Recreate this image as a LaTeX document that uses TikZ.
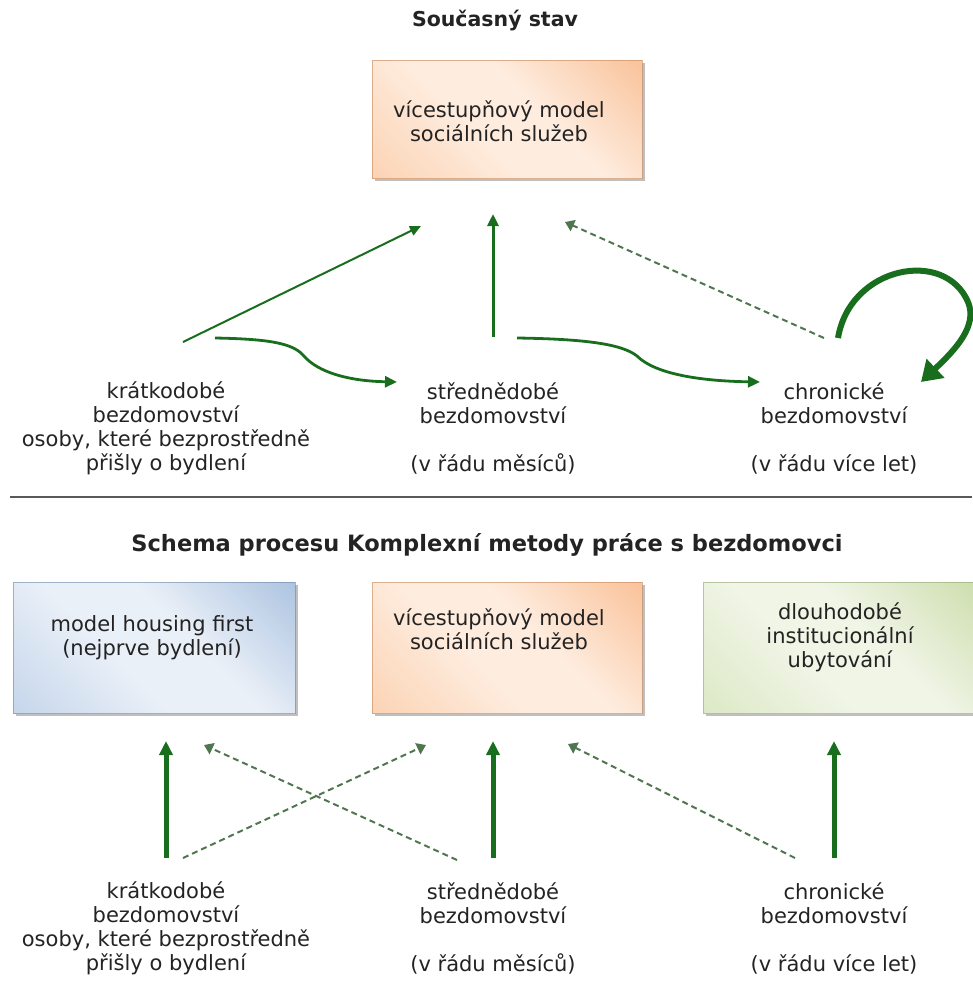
\documentclass[tikz,border=0pt]{standalone}
\usepackage{fontspec}
\setmainfont{DejaVu Sans}
\usetikzlibrary{arrows.meta,shadows}
\definecolor{grn}{RGB}{25,110,30}
\definecolor{dgrn}{RGB}{80,118,80}
\definecolor{txt}{RGB}{35,35,35}
\definecolor{oD}{RGB}{247,172,118}
\definecolor{oW}{RGB}{254,236,222}
\definecolor{oL}{RGB}{250,198,158}
\definecolor{bD}{RGB}{140,172,212}
\definecolor{bW}{RGB}{234,240,248}
\definecolor{bL}{RGB}{178,200,228}
\definecolor{gD}{RGB}{188,210,146}
\definecolor{gW}{RGB}{240,245,230}
\definecolor{gL}{RGB}{210,226,180}
\pgfdeclarehorizontalshading{oshade}{100bp}{color(0bp)=(oL); color(42bp)=(oW); color(58bp)=(oW); color(100bp)=(oD)}
\pgfdeclarehorizontalshading{bshade}{100bp}{color(0bp)=(bL); color(42bp)=(bW); color(58bp)=(bW); color(100bp)=(bD)}
\pgfdeclarehorizontalshading{gshade}{100bp}{color(0bp)=(gL); color(42bp)=(gW); color(58bp)=(gW); color(100bp)=(gD)}
\newcommand\lblfont{\fontsize{21}{24}\selectfont}
\tikzset{
  lbl/.style={align=center, font=\lblfont, text=txt, inner sep=0pt},
  ttl/.style={font=\fontsize{20.5}{24}\selectfont\bfseries, text=txt, inner sep=0pt, anchor=base},
  boxstyle/.style={shade, shading angle=45, draw=#1, draw opacity=0.6, line width=0.6pt, inner sep=0pt,
    drop shadow={shadow xshift=2.5pt, shadow yshift=-2.5pt, fill=black!50, opacity=0.5}},
  thinarr/.style={draw=grn, line width=2pt, -{Triangle[length=11pt,width=10pt]}},
  midarr/.style={draw=grn, line width=3pt, -{Triangle[length=12pt,width=11pt]}},
  thickarr/.style={draw=grn, line width=5pt, -{Triangle[length=14pt,width=13pt]}},
  curvarr/.style={draw=grn, line width=2.8pt, -{Triangle[length=12pt,width=11pt]}},
  looparr/.style={draw=grn, line width=6pt, -{Triangle[length=20pt,width=25pt]}},
  dasharr/.style={draw=dgrn, line width=2pt, dash pattern=on 6pt off 4pt, -{Triangle[length=9pt,width=12pt]}},
}
\begin{document}
\begin{tikzpicture}[x=1pt,y=-1pt]
\useasboundingbox (0,0) rectangle (972,993);
% ---------- top part ----------
\node[ttl] (title1) at (495,27) {Současný stav};
\node[boxstyle=oD!80!black, shading=oshade, minimum width=270pt, minimum height=118pt] (topbox) at (507,119) {};
\node[lbl] (topboxt) at (499,121) {vícestupňový model\\sociálních služeb};
\node[lbl] (kt1) at (166,428) {krátkodobé\\bezdomovství\\osoby, které bezprostředně\\přišly o bydlení};
\node[lbl] (st1) at (493,428) {střednědobé\\bezdomovství\\[24pt](v řádu měsíců)};
\node[lbl] (ch1) at (834,428) {chronické\\bezdomovství\\[24pt](v řádu více let)};
\coordinate (a1s) at (183,342); \coordinate (a1e) at (421,226);
\coordinate (a2s) at (493,337); \coordinate (a2e) at (493,214);
\coordinate (a3s) at (824,338); \coordinate (a3e) at (565,222);
\coordinate (c1s) at (215,338); \coordinate (c1m) at (303,355); \coordinate (c1e) at (397,382);
\coordinate (c2s) at (517,338); \coordinate (c2m) at (637,356); \coordinate (c2e) at (760,382);
\coordinate (ls) at (838,338); \coordinate (lm) at (968,302); \coordinate (le) at (921,382);
\draw[thinarr] (a1s) -- (a1e);
\draw[midarr] (a2s) -- (a2e);
\draw[dasharr] (a3s) -- (a3e);
\draw[curvarr] (c1s) .. controls (268,339) and (292,343) .. (c1m) .. controls (318,373) and (350,381) .. (c1e);
\draw[curvarr] (c2s) .. controls (585,339) and (622,344) .. (c2m) .. controls (655,374) and (700,381) .. (c2e);
\draw[looparr] (ls) .. controls (850,266) and (945,248) .. (lm) .. controls (978,326) and (955,350) .. (le);
% ---------- separator ----------
\coordinate (sepl) at (10,497); \coordinate (sepr) at (972,497);
\draw[line width=2pt, black!65] (sepl) -- (sepr);
% ---------- bottom part ----------
\node[ttl, font=\fontsize{22.5}{26}\selectfont\bfseries] (title2) at (487,551) {Schema procesu Komplexní metody práce s bezdomovci};
\node[boxstyle=bD!80!black, shading=bshade, minimum width=282pt, minimum height=131pt] (hfbox) at (154,647.5) {};
\node[lbl] (hfboxt) at (152,638) {model housing first\\(nejprve bydlení)};
\node[boxstyle=oD!80!black, shading=oshade, minimum width=270pt, minimum height=131pt] (vsbox) at (507,647.5) {};
\node[lbl] (vsboxt) at (499,629) {vícestupňový model\\sociálních služeb};
\node[boxstyle=gD!80!black, shading=gshade, minimum width=272pt, minimum height=131pt] (dibox) at (839,647.5) {};
\node[lbl] (diboxt) at (840,637) {dlouhodobé\\institucionální\\ubytování};
\node[lbl] (kt2) at (166,928) {krátkodobé\\bezdomovství\\osoby, které bezprostředně\\přišly o bydlení};
\node[lbl] (st2) at (493,928) {střednědobé\\bezdomovství\\[24pt](v řádu měsíců)};
\node[lbl] (ch2) at (834,928) {chronické\\bezdomovství\\[24pt](v řádu více let)};
\coordinate (v1s) at (166,858); \coordinate (v1e) at (166,741);
\coordinate (v2s) at (493,858); \coordinate (v2e) at (493,741);
\coordinate (v3s) at (834,858); \coordinate (v3e) at (834,741);
\coordinate (d1s) at (183,858); \coordinate (d1e) at (426,745);
\coordinate (d2s) at (457,860); \coordinate (d2e) at (204,745);
\coordinate (d3s) at (795,858); \coordinate (d3e) at (568,744);
\draw[thickarr] (v1s) -- (v1e);
\draw[thickarr] (v2s) -- (v2e);
\draw[thickarr] (v3s) -- (v3e);
\draw[dasharr] (d1s) -- (d1e);
\draw[dasharr] (d2s) -- (d2e);
\draw[dasharr] (d3s) -- (d3e);
\end{tikzpicture}
\end{document}
